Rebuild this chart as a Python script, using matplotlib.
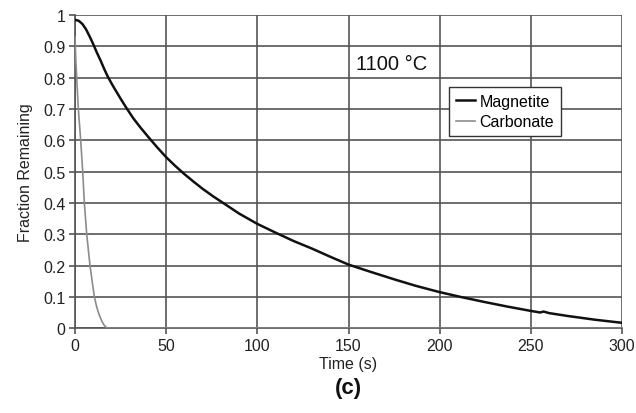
import matplotlib
matplotlib.use("Agg")
import matplotlib.pyplot as plt

plt.rcParams["font.family"] = ["Liberation Sans", "DejaVu Sans"]

# Magnetite and carbonate decay at 1100 C
t_mag = [0, 2, 4, 6, 8, 10, 12, 14, 16, 18, 20, 22, 25, 28, 32, 36, 40, 45, 50,
         55, 60, 65, 70, 76, 82, 90, 100, 110, 120, 130, 140, 150, 162, 175, 187,
         200, 212, 225, 237, 250, 255, 257, 260, 270, 285, 300]
f_mag = [0.985, 0.982, 0.972, 0.955, 0.932, 0.907, 0.880, 0.855, 0.828, 0.803,
         0.782, 0.762, 0.733, 0.705, 0.670, 0.640, 0.612, 0.578, 0.546, 0.518,
         0.492, 0.468, 0.445, 0.420, 0.397, 0.366, 0.333, 0.305, 0.278, 0.254,
         0.228, 0.203, 0.180, 0.156, 0.135, 0.115, 0.099, 0.083, 0.069, 0.055,
         0.050, 0.053, 0.048, 0.039, 0.027, 0.017]

t_carb = [0, 0.4, 0.9, 1.8, 3.1, 4.2, 5.1, 6.4, 7.3, 8.2, 9.5, 10.6, 11.7, 12.8,
          14.0, 15.0, 16.0, 17.0, 17.8, 20, 300]
f_carb = [0.93, 0.86, 0.80, 0.70, 0.60, 0.50, 0.40, 0.30, 0.25, 0.20, 0.145, 0.10,
          0.072, 0.05, 0.032, 0.019, 0.009, 0.003, 0.0, 0.0, 0.0]

x_ticks = [0, 50, 100, 150, 200, 250, 300]
y_ticks = [0, 0.1, 0.2, 0.3, 0.4, 0.5, 0.6, 0.7, 0.8, 0.9, 1]
y_labels = ["0", "0.1", "0.2", "0.3", "0.4", "0.5", "0.6", "0.7", "0.8", "0.9", "1"]

grid_col = "#555555"

fig = plt.figure(figsize=(6.36, 4.14), dpi=100)
ax = fig.add_axes([0.118, 0.205, 0.860, 0.756])

ax.plot(t_carb, f_carb, color="#8c8c8c", lw=1.2, label="Carbonate", zorder=3)
ax.plot(t_mag, f_mag, color="#111111", lw=1.8, label="Magnetite", zorder=4)

ax.set_xlim(0, 300)
ax.set_ylim(0, 1)
ax.set_xticks(x_ticks)
ax.set_yticks(y_ticks)
ax.set_yticklabels(y_labels)
ax.tick_params(axis="both", labelsize=11.5, color=grid_col, length=4, width=1.2,
               direction="out", pad=3, labelcolor="#222222")
ax.grid(True, color=grid_col, lw=1.2)
ax.set_axisbelow(True)
for side in ["top", "right"]:
    ax.spines[side].set_visible(False)
for side in ["left", "bottom"]:
    ax.spines[side].set_color(grid_col)
    ax.spines[side].set_linewidth(1.2)

ax.set_xlabel("Time (s)", fontsize=11.5, labelpad=2, color="#222222")
ax.set_ylabel("Fraction Remaining", fontsize=11.5, labelpad=7, color="#222222")

ax.text(0.513, 0.845, "1100 °C", transform=ax.transAxes, fontsize=14.5,
        ha="left", va="center", color="#111111")

handles, labels = ax.get_legend_handles_labels()
leg = ax.legend(handles[::-1], labels[::-1], loc="upper left",
                bbox_to_anchor=(0.684, 0.77), fontsize=11.5, frameon=True,
                fancybox=False, edgecolor="#333333", framealpha=1,
                handlelength=1.2, handletextpad=0.3, borderpad=0.4,
                labelspacing=0.35, borderaxespad=0)
leg.get_frame().set_linewidth(1.0)

fig.text(0.548, 0.062, "(c)", fontsize=16, fontweight="bold", ha="center",
         va="center", color="#111111")

fig.savefig("out.png", dpi=100)
